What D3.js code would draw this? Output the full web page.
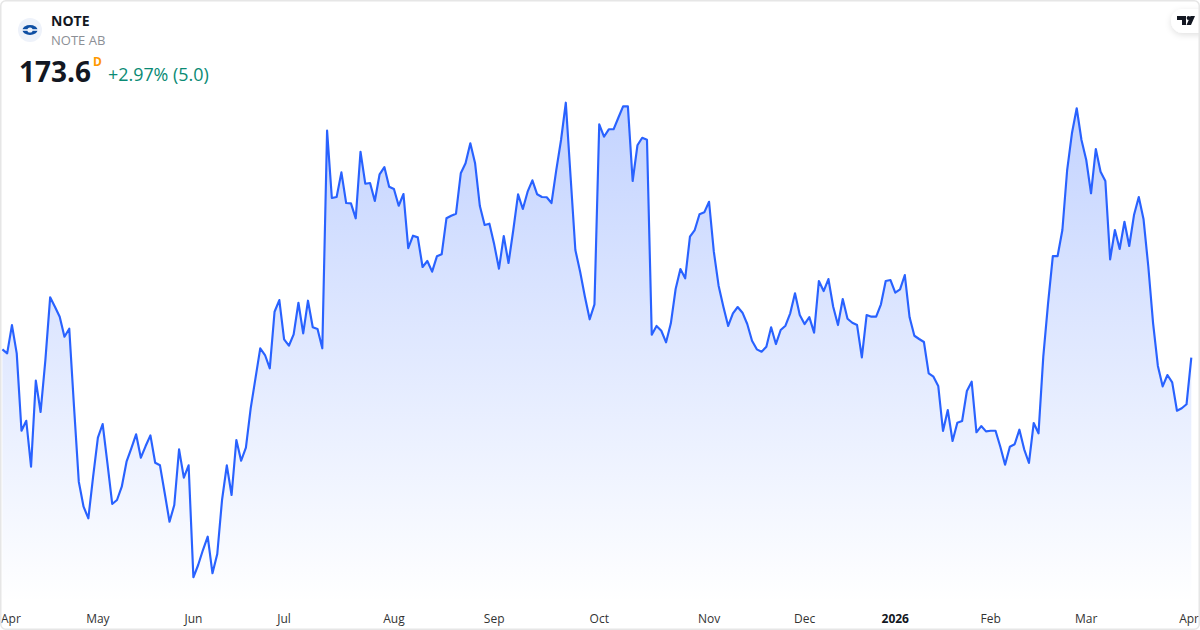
<!DOCTYPE html>
<html><head><meta charset="utf-8">
<script src="https://cdn.jsdelivr.net/npm/d3@7/dist/d3.min.js"></script>
<style>
html,body{margin:0;padding:0;background:#fff}
svg{display:block}
text{font-family:"Open Sans","Noto Sans",sans-serif}
</style></head><body><div id="chart"></div>
<script>
const symbolName = "NOTE";
const companyName = "NOTE AB";
const lastPrice = "173.6";
const intervalLabel = "D";
const changeLabel = "+2.97% (5.0)";
const monthLabels = ["Apr","May","Jun","Jul","Aug","Sep","Oct","Nov","Dec","2026","Feb","Mar","Apr"];
const monthIndex = [0,20,40,59,82,103,125,148,168,187,207,227,249];
const closes = [
174.48,174.05,177.09,174.05,165.73,166.80,161.86,171.11,167.74,173.33,
180.07,179.06,177.99,175.84,176.70,168.31,160.25,157.56,156.31,160.78,
164.98,166.45,162.22,157.85,158.28,159.71,162.40,163.84,165.34,162.83,
164.08,165.23,162.29,162.01,159.00,155.94,157.74,163.73,160.68,162.01,
149.97,151.29,152.90,154.33,150.40,152.47,158.28,162.01,158.82,164.73,
162.50,163.90,168.14,171.36,174.59,173.87,172.44,178.52,179.78,175.56,
174.87,176.09,179.49,176.20,179.71,176.85,176.66,174.59,197.99,190.75,
190.86,193.51,190.21,190.18,188.57,195.73,192.29,192.36,190.43,193.30,
194.08,191.97,191.72,189.92,191.18,185.37,186.70,186.52,183.33,183.98,
182.83,184.48,184.70,188.57,188.85,189.06,193.41,194.48,196.63,194.48,
189.89,187.85,187.99,185.77,183.15,186.66,183.76,187.31,191.15,189.57,
191.43,192.65,191.15,190.86,190.83,190.21,193.76,196.99,201.00,193.04,
185.16,182.83,180.14,177.71,179.32,198.68,197.34,198.14,198.14,199.38,
200.61,200.61,192.58,196.42,197.23,197.02,176.05,176.99,176.48,175.23,
177.28,180.97,183.12,182.12,186.59,187.31,189.00,189.21,190.35,184.98,
181.32,179.06,176.99,178.35,179.03,178.42,177.20,175.41,174.48,174.22,
174.76,176.85,175.05,176.56,177.02,178.35,180.50,178.17,177.20,177.95,
176.27,181.83,180.75,182.04,179.06,177.09,179.89,177.77,177.34,177.09,
173.62,178.17,177.99,177.99,179.32,181.83,181.93,180.57,180.93,182.47,
177.92,175.94,175.59,175.27,171.90,171.54,170.54,165.70,167.95,164.62,
166.59,166.77,170.00,171.00,165.56,166.23,165.66,165.73,165.73,164.01,
162.07,164.01,164.27,165.84,163.73,162.26,166.56,165.45,173.69,179.43,
184.51,184.51,187.31,193.76,197.71,200.40,196.99,194.84,191.26,196.02,
193.58,192.58,184.16,187.31,185.27,188.20,185.59,188.92,190.86,188.46,
183.36,177.28,172.69,170.50,171.72,170.93,167.88,168.14,168.57,173.6
];

const W = 1200, H = 630;
const x = d3.scaleLinear().domain([0, closes.length - 1]).range([2.4, 1191.3]);
const y = d3.scaleLinear().domain([140, 210]).range([670, 19]);
const plotBottom = 603;

const svg = d3.select("#chart").append("svg").attr("width", W).attr("height", H).attr("viewBox", `0 0 ${W} ${H}`);
const defs = svg.append("defs");
const grad = defs.append("linearGradient").attr("id","fill").attr("gradientUnits","userSpaceOnUse")
  .attr("x1",0).attr("x2",0).attr("y1",y(d3.max(closes))).attr("y2",plotBottom);
grad.append("stop").attr("offset",0).attr("stop-color","#2962FF").attr("stop-opacity",0.28);
grad.append("stop").attr("offset",1).attr("stop-color","#2962FF").attr("stop-opacity",0);
const shadow = defs.append("filter").attr("id","sh").attr("x","-40%").attr("y","-40%").attr("width","180%").attr("height","180%");
shadow.append("feDropShadow").attr("dx",0).attr("dy",2).attr("stdDeviation",3).attr("flood-color","#000").attr("flood-opacity",0.12);

svg.append("rect").attr("width",W).attr("height",H).attr("fill","#fff");

const area = d3.area().x((d,i)=>x(i)).y0(plotBottom).y1(d=>y(d));
const line = d3.line().x((d,i)=>x(i)).y(d=>y(d));
svg.append("path").datum(closes).attr("d",area).attr("fill","url(#fill)");
svg.append("path").datum(closes).attr("d",line).attr("fill","none").attr("stroke","#2962FF").attr("stroke-width",2.15).attr("stroke-linejoin","round");

// time axis
const axis = svg.append("g").attr("class","x-axis");
axis.selectAll("text").data(monthLabels).join("text")
  .attr("y",622.5).attr("font-size",12).attr("fill", d=>d==="2026"?"#131722":"#333")
  .attr("font-weight", d=>d==="2026"?700:400)
  .text(d=>d)
  .attr("text-anchor","middle")
  .attr("x",function(d,i){
    const w=this.getComputedTextLength();
    return Math.max(1+w/2, Math.min(1199-w/2, x(monthIndex[i])));
  });

// header
const logo = svg.append("g").attr("transform","translate(30,30)");
logo.append("circle").attr("r",12).attr("fill","#eef2fa");
logo.append("ellipse").attr("rx",7.5).attr("ry",5).attr("fill","#0f4fa3");
logo.append("rect").attr("x",-9).attr("y",-0.8).attr("width",18).attr("height",1.6).attr("fill","#eef2fa");
logo.append("circle").attr("r",2.6).attr("fill","#eef2fa");
svg.append("text").attr("x",51).attr("y",26).attr("font-size",14).attr("font-weight",700).attr("fill","#131722").text(symbolName);
svg.append("text").attr("x",51).attr("y",45).attr("font-size",13).attr("fill","#8c8f96").text(companyName);
svg.append("text").attr("x",19).attr("y",82).attr("font-size",28).attr("font-weight",700).attr("fill","#131722").text(lastPrice);
svg.append("text").attr("x",93).attr("y",66).attr("font-size",12).attr("font-weight",700).attr("fill","#ff9800").text(intervalLabel);
svg.append("text").attr("x",108).attr("y",81).attr("font-size",17.9).attr("fill","#0a8a74").text(changeLabel);

// watermark tab
const tab = svg.append("g");
tab.append("rect").attr("x",1171).attr("y",9).attr("width",50).attr("height",24).attr("rx",12).attr("fill","#fff").attr("filter","url(#sh)");
tab.append("path").attr("d","M1177 16h9v9h-4v-5h-5zM1190.5 16h4.5l-4 9h-4.5z").attr("fill","#131722");
tab.append("circle").attr("cx",1188.5).attr("cy",18).attr("r",1.9).attr("fill","#131722");

// frame
svg.append("rect").attr("x",0.75).attr("y",0.75).attr("width",W-1.5).attr("height",H-1.5).attr("rx",5).attr("fill","none").attr("stroke","#e6e6e6").attr("stroke-width",1.5);
</script></body></html>
